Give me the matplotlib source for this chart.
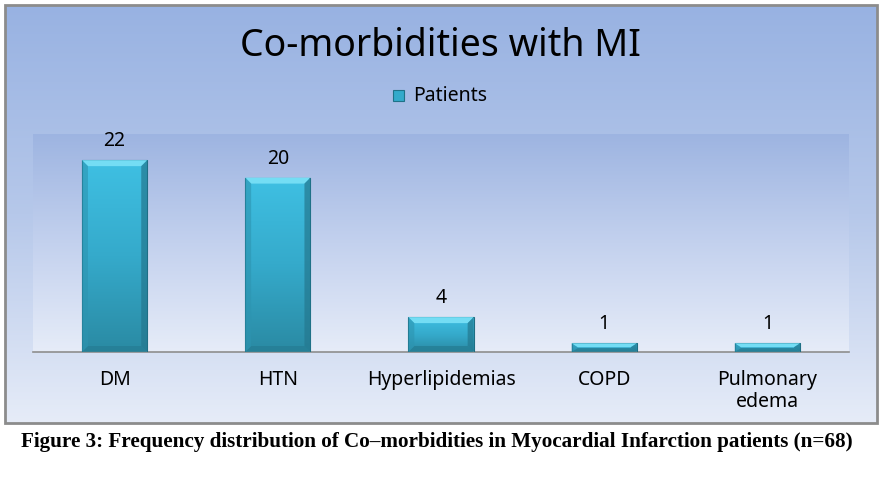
import numpy as np
import matplotlib
matplotlib.use("Agg")
import matplotlib.pyplot as plt
from matplotlib.patches import Rectangle, Polygon
from matplotlib.colors import LinearSegmentedColormap

categories = ["DM", "HTN", "Hyperlipidemias", "COPD", "Pulmonary\nedema"]
patients = [22, 20, 4, 1, 1]
series_name = "Patients"
title = "Co-morbidities with MI"
caption = "Figure 3: Frequency distribution of Co\u2013morbidities in Myocardial Infarction patients (n=68)"

W, H = 883, 478
fig = plt.figure(figsize=(W / 100, H / 100), dpi=100)
fig.patch.set_facecolor("white")

FONT = "Noto Sans"

# background panel (pixel coordinates)
bg = fig.add_axes([0, 0, 1, 1])
bg.set_xlim(0, W)
bg.set_ylim(H, 0)
bg.axis("off")
grad = np.linspace(0, 1, 256).reshape(-1, 1)
cmap_bg = LinearSegmentedColormap.from_list("bg", ["#98B2E2", "#B6C8EA", "#E6ECF8"])
bg.imshow(grad, extent=(5, 877, 423, 5), cmap=cmap_bg, aspect="auto", zorder=0)
bg.add_patch(Rectangle((5, 5), 872, 418, fill=False, edgecolor="#8C8C8C", lw=2, zorder=2))
bg.text(440, 46, title, ha="center", va="center", fontsize=27, family=FONT, color="black")
bg.add_patch(Rectangle((393, 90), 11, 11, facecolor="#33AACB", edgecolor="#1F7288", lw=0.8, zorder=3))
bg.text(413, 96, series_name, ha="left", va="center", fontsize=14, family=FONT, color="black")
bg.text(437, 442, caption, ha="center", va="center", fontsize=15.2, family="Liberation Serif",
        fontweight="bold", color="black")

# plot area
x0, x1, ytop, ybase = 33, 849, 134, 352
ax = fig.add_axes([x0 / W, (H - ybase) / H, (x1 - x0) / W, (ybase - ytop) / H])
ax.set_xlim(-0.5, len(categories) - 0.5)
ax.set_ylim(0, 25)
cmap_pa = LinearSegmentedColormap.from_list("pa", ["#9DB4E1", "#C3D1EE", "#E6ECF8"])
ax.imshow(grad, extent=(-0.5, len(categories) - 0.5, 0, 25), cmap=cmap_pa, aspect="auto",
          zorder=0, origin="upper")
for s in ["top", "right", "left"]:
    ax.spines[s].set_visible(False)
ax.spines["bottom"].set_color("#8E8E8E")
ax.spines["bottom"].set_linewidth(1.2)
ax.set_yticks([])
ax.set_xticks(range(len(categories)))
ax.set_xticklabels(categories, fontsize=14, family=FONT, linespacing=1.15)
ax.tick_params(axis="x", length=0, pad=13)

bw = 0.4
bars = ax.bar(range(len(categories)), patients, width=bw, color="#38B4D6",
              edgecolor="#1E6E84", linewidth=0.8, zorder=3)
cmap_bar = LinearSegmentedColormap.from_list("bar", ["#3FC0E3", "#35AACB", "#2A8AA3"])
px_x = (len(categories)) / (x1 - x0)
px_y = 25 / (ybase - ytop)
for i, (b, v) in enumerate(zip(bars, patients)):
    b.set_facecolor("none")
    im = ax.imshow(grad, extent=(i - bw / 2, i + bw / 2, 0, v), cmap=cmap_bar,
                   aspect="auto", zorder=2, origin="upper")
    im.set_clip_path(b)
    bev = 6
    dx, dy = bev * px_x, bev * px_y
    dy = min(dy, v * 0.45)
    l, r = i - bw / 2, i + bw / 2
    ax.add_patch(Polygon([(l, v), (r, v), (r - dx, v - dy), (l + dx, v - dy)],
                         closed=True, facecolor="#74DDF4", edgecolor="none", zorder=3.5))
    ax.add_patch(Polygon([(l, 0), (r, 0), (r - dx, dy), (l + dx, dy)],
                         closed=True, facecolor="#257E95", edgecolor="none", alpha=0.8, zorder=3.5))
    ax.add_patch(Polygon([(l, 0), (l, v), (l + dx, v - dy), (l + dx, dy)],
                         closed=True, facecolor="#2D94B0", edgecolor="none", alpha=0.6, zorder=3.5))
    ax.add_patch(Polygon([(r, 0), (r, v), (r - dx, v - dy), (r - dx, dy)],
                         closed=True, facecolor="#24788F", edgecolor="none", alpha=0.7, zorder=3.5))
    ax.text(i, v + 9 * px_y, str(v), ha="center", va="bottom", fontsize=14,
            family=FONT, color="black", zorder=5)

fig.savefig("out.png", dpi=100, facecolor="white")
